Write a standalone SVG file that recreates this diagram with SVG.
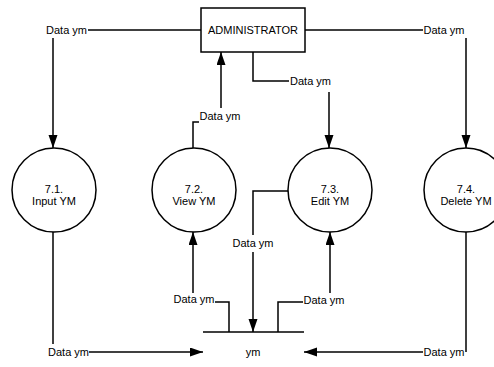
<svg xmlns="http://www.w3.org/2000/svg" width="494" height="367" viewBox="0 0 494 367">
<style>
text{font-family:"Liberation Sans",Arial,sans-serif;font-size:11px;fill:#000;text-anchor:middle}
.ln{fill:none;stroke:#000;stroke-width:1.5}
.arr{fill:none;stroke:#000;stroke-width:1.5;marker-end:url(#ah)}
.nd{fill:#fff;stroke:#000;stroke-width:1.5}
</style>
<defs>
<marker id="ah" markerUnits="userSpaceOnUse" markerWidth="13" markerHeight="10" refX="13" refY="4.5" orient="auto">
<path d="M0,0 L13,4.5 L0,9 z" fill="#000"/>
</marker>
</defs>
<rect width="494" height="367" fill="#fff"/>
<g id="connectors">
<path class="ln" d="M88,30 H201"/>
<path class="arr" d="M53,38 V148"/>
<text x="66.5" y="34">Data ym</text>
<path class="ln" d="M305,30 H423"/>
<path class="arr" d="M466,38 V148"/>
<text x="444" y="34">Data ym</text>
<path class="ln" d="M253,52 V81 H289"/>
<path class="arr" d="M329,92 V148"/>
<text x="310.5" y="85">Data ym</text>
<path class="ln" d="M193,148 V122 H199"/>
<path class="arr" d="M221,108 V52"/>
<text x="220" y="120">Data ym</text>
<path class="ln" d="M288,191 H253 V235"/>
<path class="arr" d="M253,252 V332"/>
<text x="253" y="247">Data ym</text>
<path class="ln" d="M215,302 H229 V332"/>
<path class="arr" d="M193,293 V232"/>
<text x="194" y="303">Data ym</text>
<path class="ln" d="M303,302 H278 V332"/>
<path class="arr" d="M330,293 V232"/>
<text x="324" y="304">Data ym</text>
<path class="ln" d="M53,232 V344"/>
<path class="arr" d="M89,352 H203"/>
<text x="68.5" y="356">Data ym</text>
<path class="ln" d="M466,232 V352"/>
<path class="arr" d="M423,352 H304"/>
<text x="444" y="356">Data ym</text>
</g>
<g id="administrator">
<rect class="nd" x="201" y="8" width="104" height="44"/>
<text x="253" y="34">ADMINISTRATOR</text>
</g>
<g id="p71">
<circle class="nd" cx="54" cy="190" r="42"/>
<text x="54" y="193">7.1.</text>
<text x="54" y="205">Input YM</text>
</g>
<g id="p72">
<circle class="nd" cx="194" cy="190" r="42"/>
<text x="194" y="193">7.2.</text>
<text x="194" y="205">View YM</text>
</g>
<g id="p73">
<circle class="nd" cx="330" cy="190" r="42"/>
<text x="330" y="193">7.3.</text>
<text x="330" y="205">Edit YM</text>
</g>
<g id="p74">
<circle class="nd" cx="466" cy="190" r="42"/>
<text x="466" y="193">7.4.</text>
<text x="466" y="205">Delete YM</text>
</g>
<g id="store-ym">
<path class="ln" d="M203,332 H304"/>
<text x="253" y="356">ym</text>
</g>
</svg>
